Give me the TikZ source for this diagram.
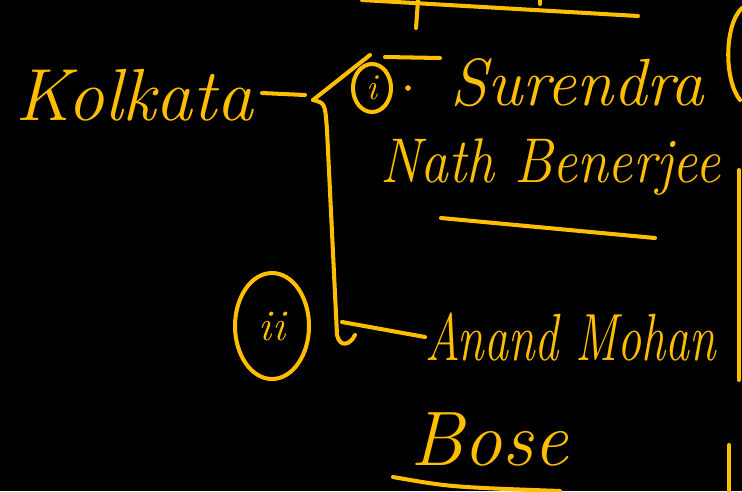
\documentclass[tikz,border=0pt]{standalone}
\usepackage{tikz}
\usetikzlibrary{positioning,calc,shapes.geometric}
\definecolor{ink}{HTML}{FFBF00}
\begin{document}
\begin{tikzpicture}[x=0.02cm,y=-0.02cm,
  pen/.style={draw=ink,line width=2.3pt,line cap=round,line join=round},
  word/.style={text=ink,anchor=base west,inner sep=0pt,font=\itshape}]
\useasboundingbox (0,0) rectangle (742,491);
\fill[black] (0,0) rectangle (742,491);
\clip (0,0) rectangle (742,491);
% words
\node[word,font=\itshape\fontsize{42}{48}\selectfont] (kolkata) at (15,120) {Kolkata};
\node[word,font=\itshape\fontsize{38}{44}\selectfont] (surendra) at (450,105) {Surendra};
\node[word,xscale=0.88,font=\itshape\fontsize{36}{40}\selectfont] (nath) at (380,182) {Nath Benerjee};
\node[word,xscale=0.72,font=\itshape\fontsize{38}{40}\selectfont] (anand) at (425,360) {Anand Mohan};
\node[word,font=\itshape\fontsize{44}{50}\selectfont] (bose) at (410,465) {Bose};
% numbers
\node[ellipse,draw=ink,line width=2.3pt,text=ink,minimum width=0.76cm,minimum height=0.96cm,inner sep=0pt,font=\itshape\huge] (one) at (372,88) {i};
\node[ellipse,draw=ink,line width=2.3pt,text=ink,minimum width=1.48cm,minimum height=2.12cm,inner sep=0pt,font=\itshape\Huge] (two) at (272,326) {ii};
\fill[ink] (408,88) circle (1.6pt);
% bracket
\coordinate (dash) at (262,93);
\coordinate (fork) at (313,100);
\coordinate (hook) at (342,322);
\draw[pen] (dash) -- (305,95);
\draw[pen] (fork) -- (370,55);
\draw[pen] (385,57) -- (440,58);
\draw[pen] (fork) .. controls (325,103) .. (327,130) -- (337,335) .. controls (340,348) and (350,345) .. (355,335);
\draw[pen] (hook) -- (anand.west |- 0,337);
% strokes
\draw[pen] (362,0) -- (638,16);
\draw[pen] (418,0) -- (416,28);
\draw[pen] (540,0) -- (540,4);
\draw[pen] (441,218) -- (655,238);
\draw[pen] (393,477) .. controls (450,487) .. (560,491);
\draw[pen] (742,8) .. controls (724,25) and (724,80) .. (740,100);
\draw[pen] (739,170) -- (739,380);
\draw[pen] (729,445) -- (729,491);
\end{tikzpicture}
\end{document}
